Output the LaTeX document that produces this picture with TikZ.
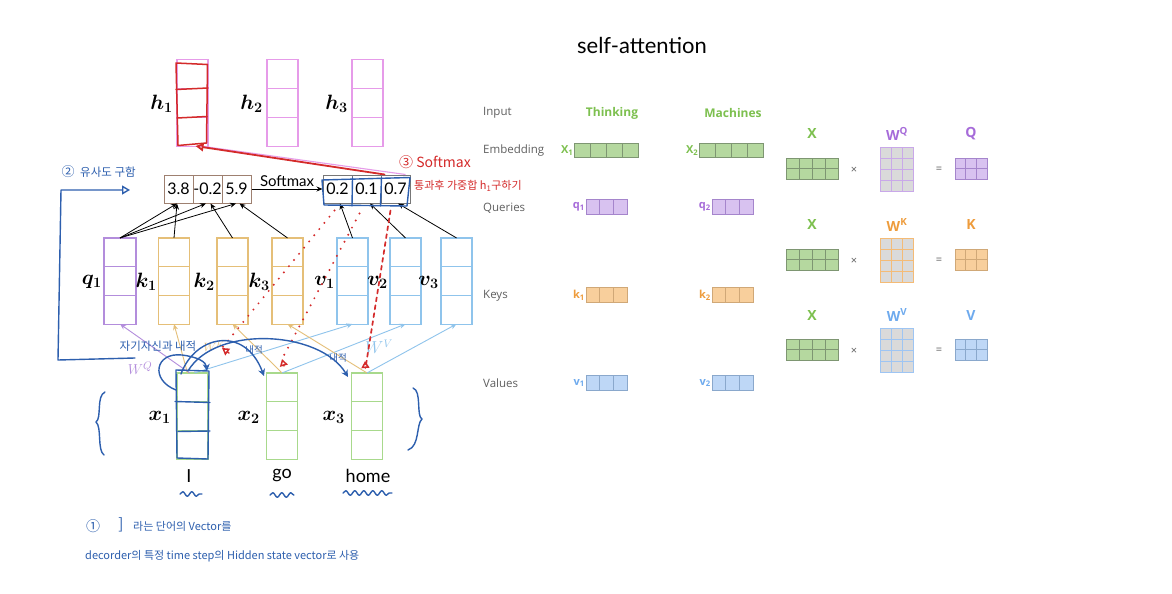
\documentclass[tikz,border=0pt]{standalone}
\usepackage{fontspec}
\setmainfont{Lato}
\newfontfamily\kr{Noto Sans CJK KR}
\newfontfamily\osans{Open Sans}
\usetikzlibrary{arrows.meta,calc,decorations.pathmorphing}
\definecolor{qpurple}{HTML}{B38DDC}
\definecolor{korange}{HTML}{E5BF78}
\definecolor{vblue}{HTML}{8FC4EC}
\definecolor{xgreen}{HTML}{A8D98C}
\definecolor{hmag}{HTML}{E69BE9}
\definecolor{sbrown}{HTML}{9E8070}
\definecolor{sgray}{HTML}{777777}
\definecolor{hblue}{HTML}{2D5FAE}
\definecolor{hred}{HTML}{D42A2A}
\definecolor{lgray}{HTML}{5F5F5F}
\definecolor{gfill}{HTML}{B5D89F}
\definecolor{gline}{HTML}{7E9672}
\definecolor{pfill}{HTML}{D8C2F0}
\definecolor{pline}{HTML}{A585CC}
\definecolor{ofill}{HTML}{F8CF9C}
\definecolor{oline}{HTML}{D0A877}
\definecolor{bfill}{HTML}{BED7F6}
\definecolor{bline}{HTML}{8AA8CC}
\definecolor{wfill}{HTML}{DADADA}
\definecolor{tgreen}{HTML}{7DC04F}
\definecolor{tpurple}{HTML}{A66BD9}
\definecolor{torange}{HTML}{EE9C3C}
\definecolor{tblue}{HTML}{6EAAEE}
\newcommand{\cellgrid}[8]{%
  \node[#8, minimum width={#4*#6}, minimum height={#5*#7}, inner sep=0pt, outer sep=0pt] (#1) at (#2,#3) {};
  \pgfmathtruncatemacro\cgnc{#4-1}%
  \pgfmathtruncatemacro\cgnr{#5-1}%
  \ifnum\cgnc>0 \foreach \i in {1,...,\cgnc}{\draw[#8,fill=none] ([xshift=\i*#6]#1.north west) -- ([xshift=\i*#6]#1.south west);}\fi
  \ifnum\cgnr>0 \foreach \j in {1,...,\cgnr}{\draw[#8,fill=none] ([yshift=-\j*#7]#1.north west) -- ([yshift=-\j*#7]#1.north east);}\fi
}
\tikzset{
  hsty/.style={draw=hmag, line width=1.1pt},
  qsty/.style={draw=qpurple, line width=1.1pt},
  ksty/.style={draw=korange, line width=1.1pt},
  vsty/.style={draw=vblue, line width=1.1pt},
  xsty/.style={draw=xgreen, line width=1.1pt},
  scell/.style={draw=sbrown, line width=1pt, minimum width=29pt, minimum height=28pt, inner sep=0pt, font=\fontsize{16}{18}\selectfont},
  pcellx/.style={draw=sgray, line width=1pt, minimum width=29pt, minimum height=28pt, inner sep=0pt, font=\fontsize{16}{18}\selectfont},
  mlabel/.style={font=\fontsize{21}{24}\selectfont\boldmath, inner sep=0pt},
  word/.style={font=\fontsize{18}{20}\selectfont, inner sep=0pt},
  blk/.style={draw=black, line width=0.8pt, -{Stealth[length=6pt,width=5pt]}},
  warrow/.style={draw=#1, line width=0.9pt, -{Stealth[length=6pt,width=5pt]}},
  gcell/.style={draw=gline, fill=gfill, line width=0.8pt},
  pcell/.style={draw=pline, fill=pfill, line width=0.8pt},
  ocell/.style={draw=oline, fill=ofill, line width=0.8pt},
  bcell/.style={draw=bline, fill=bfill, line width=0.8pt},
  wqcell/.style={draw=pfill!70!tpurple, fill=wfill, line width=1pt},
  wkcell/.style={draw=ofill!60!torange, fill=wfill, line width=1pt},
  wvcell/.style={draw=bfill!60!tblue, fill=wfill, line width=1pt},
  rowlabel/.style={anchor=west, text=lgray, font=\osans\fontsize{11.5}{13}\selectfont, inner sep=0pt},
  wordlabel/.style={text=tgreen, font=\osans\bfseries\fontsize{12}{14}\selectfont, inner sep=0pt},
  vlabel/.style={anchor=east, font=\osans\bfseries\fontsize{11}{13}\selectfont, inner sep=1pt},
  mxlabel/.style={font=\osans\bfseries\fontsize{14}{16}\selectfont, inner sep=0pt},
  opsym/.style={text=lgray, font=\osans\fontsize{11}{13}\selectfont, inner sep=0pt},
  hb/.style={draw=hblue, line width=1.4pt, line cap=round, line join=round},
  hr/.style={draw=hred, line width=1.5pt, line cap=round, line join=round},
  hrdots/.style={hr, line width=2.2pt, dash pattern=on 0pt off 8pt},
  hbtext/.style={text=hblue, font=\kr\fontsize{11}{13}\selectfont, inner sep=0pt},
  hrtext/.style={text=hred, font=\kr\fontsize{11}{13}\selectfont, inner sep=0pt},
  squig/.style={hb, decorate, decoration={snake, amplitude=2.3pt, segment length=9pt}}
}
\begin{document}
\begin{tikzpicture}[x=1pt,y=-1pt]
\useasboundingbox (0,0) rectangle (1172,594);
\fill[white] (0,0) rectangle (1172,594);

% ---------- left diagram: boxes ----------
\cellgrid{h1}{192.5}{103}{1}{3}{31}{28.7}{hsty}
\cellgrid{h2}{282.5}{103}{1}{3}{31}{28.7}{hsty}
\cellgrid{h3}{367.5}{103}{1}{3}{31}{28.7}{hsty}
\node[mlabel, anchor=east] (lh1) at (173,104) {$h_1$};
\node[mlabel, anchor=east] (lh2) at (263,104) {$h_2$};
\node[mlabel, anchor=east] (lh3) at (348,104) {$h_3$};

\node[scell] (s1) at (178.5,189) {3.8};
\node[scell] (s2) at (207.5,189) {-0.2};
\node[scell] (s3) at (236.5,189) {5.9};
\node[pcellx] (p1) at (337.5,189) {0.2};
\node[pcellx] (p2) at (366.5,189) {0.1};
\node[pcellx] (p3) at (395.5,189) {0.7};
\draw[blk] (s3.east) -- (p1.west) node[midway, above=1pt, font=\fontsize{15}{17}\selectfont, inner sep=1pt] {Softmax};

\cellgrid{q1}{120}{281}{1}{3}{32}{28.7}{qsty}
\cellgrid{k1}{174}{281}{1}{3}{31}{28.7}{ksty}
\cellgrid{k2}{232.5}{281}{1}{3}{31}{28.7}{ksty}
\cellgrid{k3}{287.5}{281}{1}{3}{31}{28.7}{ksty}
\cellgrid{v1}{352.5}{281}{1}{3}{31}{28.7}{vsty}
\cellgrid{v2}{405.5}{281}{1}{3}{31}{28.7}{vsty}
\cellgrid{v3}{456.5}{281}{1}{3}{31}{28.7}{vsty}
\node[mlabel, anchor=east] (lq1) at (102,282) {$q_1$};
\node[mlabel, anchor=east] (lk1) at (157,282) {$k_1$};
\node[mlabel, anchor=east] (lk2) at (215,282) {$k_2$};
\node[mlabel, anchor=east] (lk3) at (270,282) {$k_3$};
\node[mlabel, anchor=east] (lv1) at (335,282) {$v_1$};
\node[mlabel, anchor=east] (lv2) at (388,282) {$v_2$};
\node[mlabel, anchor=east] (lv3) at (439,282) {$v_3$};

\cellgrid{x1}{192.5}{416}{1}{3}{31}{28.7}{xsty}
\cellgrid{x2}{282}{416}{1}{3}{31}{28.7}{xsty}
\cellgrid{x3}{367}{416}{1}{3}{31}{28.7}{xsty}
\node[mlabel, anchor=east] (lx1) at (171,417) {$x_1$};
\node[mlabel, anchor=east] (lx2) at (260,417) {$x_2$};
\node[mlabel, anchor=east] (lx3) at (345,417) {$x_3$};
\node[word] (wI) at (189,476) {I};
\node[word] (wgo) at (282,476) {go};
\node[word] (whome) at (368,476) {home};

% score arrows
\draw[blk] (q1.north) -- ([xshift=-1.5]s1.south);
\draw[blk] (q1.north) -- ([xshift=-1.5]s2.south);
\draw[blk] (q1.north) -- ([xshift=-0.5]s3.south);
\draw[blk] (k1.north) -- ([xshift=-1.5]s1.south);
\draw[blk] (k2.north) -- ([xshift=3]s2.south);
\draw[blk] (k3.north) -- ([xshift=3]s3.south);
\draw[blk] (v1.north) -- ([xshift=2.5]p1.south);
\draw[blk] (v2.north) -- ([xshift=3.5]p2.south);
\draw[blk] (v3.north) -- ([xshift=2.5]p3.south);

% projection arrows
\draw[warrow=qpurple] ([xshift=-3]x1.north) -- (q1.south);
\draw[warrow=korange] ([xshift=-5]x1.north) -- (k1.south);
\draw[warrow=vblue] ([xshift=2]x1.north) -- (v1.south);
\draw[warrow=korange] (x2.north) -- (k2.south);
\draw[warrow=vblue] (x2.north) -- (v2.south);
\draw[warrow=korange] (x3.north) -- (k3.south);
\draw[warrow=vblue] (x3.north) -- (v3.south);
\node[text=qpurple, font=\fontsize{15}{17}\selectfont, inner sep=0pt] (wq) at (140,368) {$W^Q$};
\node[text=korange, font=\fontsize{12}{14}\selectfont, inner sep=0pt] (wk) at (214,347) {$W^K$};
\node[text=vblue, font=\fontsize{16}{18}\selectfont, inner sep=0pt] (wv) at (379,347) {$W^V$};

% ---------- red annotations ----------
\draw[hmag, line width=1.1pt] ([xshift=8]h1.south) -- ([xshift=10]p3.north);
\draw[hr, line width=1.8pt, -{Triangle[open,length=8pt,width=8pt]}] ([xshift=-11]p3.north) -- ([xshift=3]h1.south);
\draw[hr] (176,63) -- (207.5,64.5) -- (206.5,143) -- (178,145.5) -- cycle;
\draw[hr] (176,89.5) -- (208,88);
\draw[hr] (177,118) -- (207,116.5);
\coordinate (r1) at (222,348);
\coordinate (r2) at (282,359);
\coordinate (r3) at (365,361);
\draw[hrdots] ([xshift=-3,yshift=-7]p1.south) -- (r1);
\draw[hr, -{Triangle[open,length=7pt,width=8pt]}] ([xshift=7,yshift=-5]r1) -- (r1);
\draw[hrdots] ([xshift=-7,yshift=-10]p2.south) -- (r2);
\draw[hr, -{Triangle[open,length=7pt,width=8pt]}] ([xshift=2,yshift=-7]r2) -- (r2);
\draw[hr, dash pattern=on 4pt off 4pt, line width=1.7pt] ([xshift=-5,yshift=-7]p3.south) -- ([xshift=0.5,yshift=-7]r3);
\draw[hr, -{Triangle[open,length=7pt,width=8pt]}] ([xshift=0.5,yshift=-7]r3) -- (r3);
\node[hrtext, anchor=west, font=\kr\fontsize{14}{16}\selectfont] (rt1) at (399,162) {③ Softmax};
\node[hrtext, anchor=west] (rt2) at (414,186) {통과후 가중합 h\textsubscript{1}구하기};

% ---------- blue annotations ----------
\draw[hb] (322,180) -- (410,177.5) -- (407,206) -- (324,205) -- cycle;
\draw[hb] (352.5,178) -- (352,206);
\draw[hb] (381.5,177.5) -- (380.5,206);
\draw[hb] (176,370) -- (209,371) -- (208,459) -- (177,458) -- cycle;
\draw[hb] (175,401.5) -- (210,402.5);
\draw[hb] (178,431.5) -- (210,431);
\node[hbtext, font=\kr\fontsize{13}{15}\selectfont] (c2) at (68,172) {②};
\node[hbtext, anchor=west, font=\kr\fontsize{11.5}{13}\selectfont] (t2) at (80,172) {유사도 구함};
\coordinate (bk1) at (135,358);
\coordinate (bk2) at (58,360);
\coordinate (bk3) at (61,190);
\coordinate (bk4) at (130,190);
\draw[hb, -{Triangle[open,length=8pt,width=9pt]}] (bk1) -- (bk2) -- (bk3) -- (bk4);
\node[hbtext, font=\kr\fontsize{11.5}{13}\selectfont] (t3) at (158,346) {자기자신과 내적};
\node[hbtext, font=\kr\fontsize{9.5}{11}\selectfont] (t4) at (254,350) {내적};
\node[hbtext, font=\kr\fontsize{9.5}{11}\selectfont] (t5) at (338,358) {내적};
\draw[hb, -{Stealth[length=7pt,width=7pt,open]}] (176,390) .. controls (150,380) and (155,352) .. (182,355) .. controls (198,357) and (206,362) .. (207,371);
\draw[hb, -{Stealth[length=7pt,width=7pt,open]}] (181,374) .. controls (195,335) and (245,325) .. (264,376);
\draw[hb, -{Stealth[length=7pt,width=7pt,open]}] (188,371) .. controls (215,325) and (320,330) .. (348,377);
\draw[hb] (105,392) .. controls (96,396) and (102,418) .. (96,422) .. controls (102,427) and (97,450) .. (104,455);
\draw[hb] (413,388) .. controls (422,391) and (416,416) .. (422,419) .. controls (416,424) and (420,446) .. (408,450);
\draw[squig] (180,494) -- (202,494);
\draw[squig] (270,495) -- (294,495);
\draw[squig] (343,493) -- (392,493);
\node[hbtext, font=\kr\fontsize{14}{16}\selectfont] (c1) at (93,526) {①};
\node[hbtext, font=\kr\fontsize{15}{17}\selectfont] (c1b) at (121,525) {]};
\node[hbtext, anchor=west] (t6) at (133,526) {라는 단어의 Vector를};
\node[hbtext, anchor=west] (t7) at (85,556) {decorder의 특정 time step의 Hidden state vector로 사용};

% ---------- right panel ----------
\node[font=\fontsize{22}{24}\selectfont, inner sep=0pt] (title) at (642,45) {self-attention};
\node[rowlabel] (lin) at (483,113) {Input};
\node[rowlabel] (lemb) at (483,151) {Embedding};
\node[rowlabel] (lque) at (483,208) {Queries};
\node[rowlabel] (lkey) at (483,296) {Keys};
\node[rowlabel] (lval) at (483,383) {Values};
\node[wordlabel] (think) at (612,113) {Thinking};
\node[wordlabel] (mach) at (733,113) {Machines};

\cellgrid{E1}{606.5}{150.5}{4}{1}{16}{14.5}{gcell}
\cellgrid{E2}{731.5}{150.5}{4}{1}{16}{14.5}{gcell}
\node[vlabel, text=tgreen] at (E1.west) {X\textsubscript{1}};
\node[vlabel, text=tgreen] at (E2.west) {X\textsubscript{2}};
\cellgrid{Q1}{606.5}{207}{3}{1}{13.7}{14.5}{pcell}
\cellgrid{Q2}{732.5}{207}{3}{1}{13.7}{14.5}{pcell}
\node[vlabel, text=tpurple] at (Q1.west) {q\textsubscript{1}};
\node[vlabel, text=tpurple] at (Q2.west) {q\textsubscript{2}};
\cellgrid{K1}{606.5}{295}{3}{1}{13.7}{14.5}{ocell}
\cellgrid{K2}{732.5}{295}{3}{1}{13.7}{14.5}{ocell}
\node[vlabel, text=torange] at (K1.west) {k\textsubscript{1}};
\node[vlabel, text=torange] at (K2.west) {k\textsubscript{2}};
\cellgrid{V1}{606.5}{383}{3}{1}{13.7}{14.5}{bcell}
\cellgrid{V2}{732.5}{383}{3}{1}{13.7}{14.5}{bcell}
\node[vlabel, text=tblue] at (V1.west) {v\textsubscript{1}};
\node[vlabel, text=tblue] at (V2.west) {v\textsubscript{2}};

% matrices
\cellgrid{MX1}{812}{168.5}{4}{2}{13}{10.5}{gcell}
\cellgrid{MWQ}{896.5}{169}{3}{4}{11}{11}{wqcell}
\cellgrid{MQ}{971}{168.5}{3}{2}{10.7}{10.5}{pcell}
\node[mxlabel, text=tgreen] at (812,134) {X};
\node[mxlabel, text=tpurple] at (897,134) {W\textsuperscript{Q}};
\node[mxlabel, text=tpurple] at (971,134) {Q};
\node[opsym] at (854,170) {×};
\node[opsym] at (939,170) {=};

\cellgrid{MX2}{812}{259.5}{4}{2}{13}{10.5}{gcell}
\cellgrid{MWK}{896.5}{260}{3}{4}{11}{11}{wkcell}
\cellgrid{MK}{971}{259.5}{3}{2}{10.7}{10.5}{ocell}
\node[mxlabel, text=tgreen] at (812,225) {X};
\node[mxlabel, text=torange] at (897,225) {W\textsuperscript{K}};
\node[mxlabel, text=torange] at (971,225) {K};
\node[opsym] at (854,261) {×};
\node[opsym] at (939,261) {=};

\cellgrid{MX3}{812}{349.5}{4}{2}{13}{10.5}{gcell}
\cellgrid{MWV}{896.5}{350}{3}{4}{11}{11}{wvcell}
\cellgrid{MV}{971}{349.5}{3}{2}{10.7}{10.5}{bcell}
\node[mxlabel, text=tgreen] at (812,315) {X};
\node[mxlabel, text=tblue] at (897,315) {W\textsuperscript{V}};
\node[mxlabel, text=tblue] at (971,315) {V};
\node[opsym] at (854,351) {×};
\node[opsym] at (939,351) {=};
\end{tikzpicture}
\end{document}
